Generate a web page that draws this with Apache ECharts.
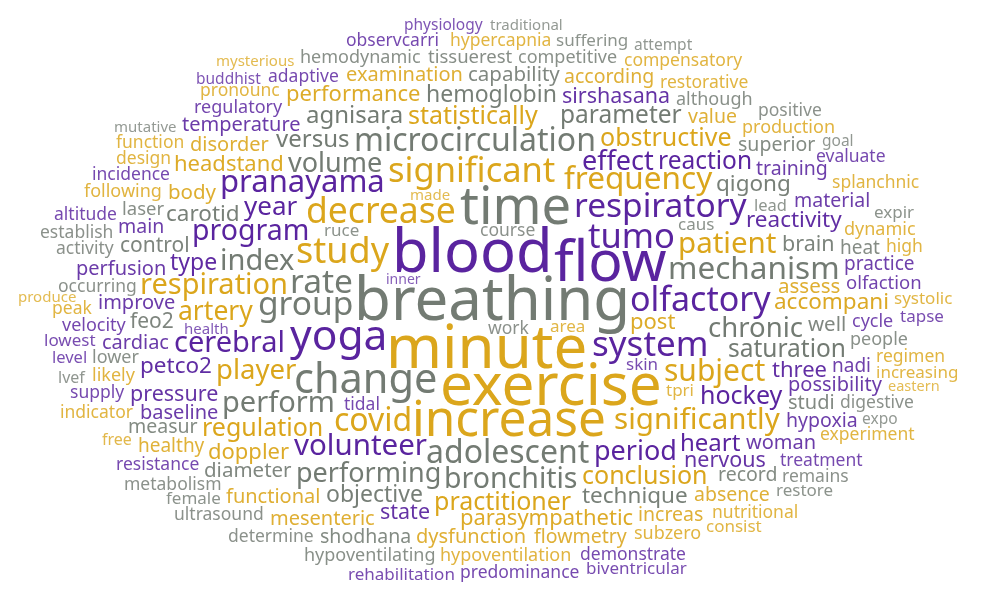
<!DOCTYPE html>
<html><head><meta charset="utf-8">
<script src="https://cdn.jsdelivr.net/npm/echarts@6/dist/echarts.min.js"></script>
<style>html,body{margin:0;padding:0;background:#fff;overflow:hidden}#c{width:982px;height:607px}</style>
</head><body><div id="c"></div>
<script>
// ---------- DATA ----------
const words = [
"blood","breathing","flow","exercise","minute","time","increase","yoga","change","decrease",
"study","tumo","significant","group","rate","system","adolescent","olfactory","respiratory","microcirculation",
"frequency","significantly","bronchitis","volunteer","subject","program","covid","pranayama","respiration","index",
"mechanism","cerebral","patient","period","player","perform","effect","hockey","chronic","performing",
"heart","reaction","year","artery","statistically","regulation","conclusion","practitioner","volume","saturation",
"type","obstructive","versus","parameter","hemoglobin","nervous","agnisara","post","three","qigong",
"parasympathetic","headstand","objective","reactivity","accompani","carotid","petco2","brain","technique","pressure",
"sirshasana","doppler","training","state","improve","possibility","baseline","practice","cardiac","cycle",
"healthy","material","well","hypoxia","performance","nadi","according","control","body","disorder",
"dysfunction","flowmetry","examination","hypoventilation","record","temperature","capability","perfusion","lower","assess",
"main","heat","diameter","value","woman","occurring","superior","treatment","shodhana","absence",
"mesenteric","lowest","measur","adaptive","tissuerest","feo2","studi","hypercapnia","restorative","functional",
"olfaction","competitive","increas","demonstrate","laser","course","digestive","suffering","although","tidal",
"resistance","incidence","nutritional","predominance","hemodynamic","regulatory","compensatory","pronounc","rehabilitation","hypoventilating",
"metabolism","splanchnic","production","activity","people","systolic","increasing","experiment","supply","determine",
"design","consist","expir","lead","remains","skin","velocity","ultrasound","regimen","observcarri",
"indicator","biventricular","establish","subzero","work","restore","likely","function","positive","following",
"peak","evaluate","level","free","altitude","physiology","produce","attempt","mutative","health",
"dynamic","high","tapse","buddhist","traditional","inner","goal","expo","female","area",
"tpri","ruce","caus","mysterious","made","eastern","lvef"
];
const weights = [
59.5,60,57,58.5,60,52.5,49.5,42.5,41.5,35.5,
36,34.5,34.5,33.5,33.5,35,32,34,33.5,32,
31.5,29.5,28.5,29.5,30,28.5,32,31,29,29,
31.5,29,29.5,27,27.5,29,27,25,27.5,27,
24,24.5,26,26.5,25,25,25,25,27,24.5,
23,25,24,24.5,23,21.5,24,22,22,22.5,
22,22,23,22.5,22.5,22.5,22.5,21.5,22.5,21.5,
21.5,22,19.5,21.5,20,20,20,19,20,18,
19,19.5,20.5,19.5,22,19,19.5,21,20.5,20,
20,19.5,20,18,19.5,20,20.5,20,18,20.5,
19.5,19,20.5,19.5,20,17.5,19.5,17.5,19.5,19.5,
20,17,19.5,17.5,18.5,21,20,17.5,17.5,20,
18.5,18,19.5,17.5,18.5,17.5,17.5,17,18,17.5,
17.5,17.5,17.5,17.5,18,18,17.5,17.5,17,18,
17.5,17.5,18,17.5,18,17,17,17.5,17.5,17.5,
17.5,17,17,16.5,17.5,17,18,17.5,17.5,17.5,
17.5,17,17.5,18,17.5,17,18,17.5,17.5,18,
17.5,17.5,16.5,16,17.5,15.5,15,15.5,15,15,
18,17.5,17,15.5,15,14,15.5,15.5,17,17,
17,17,17,15,15,14.5,16
];
// colour group: G = gold, P = purple, N = grey
const colourGroup = [
"P","N","P","G","G","N","G","P","N","G",
"G","P","G","N","N","P","N","P","P","N",
"G","G","N","P","G","P","G","P","G","N",
"N","P","G","P","G","N","P","P","N","N",
"P","P","P","G","G","G","G","G","N","N",
"P","G","N","N","N","P","N","G","P","N",
"G","G","N","P","G","N","P","N","N","P",
"P","G","P","P","P","P","P","P","P","P",
"G","P","N","P","G","P","G","N","G","G",
"G","G","G","G","N","P","N","P","N","G",
"P","N","N","G","P","N","N","P","N","G",
"G","P","N","P","N","N","N","G","G","G",
"P","N","G","P","N","N","N","N","N","P",
"P","P","G","P","N","P","G","G","P","N",
"N","G","G","N","N","G","G","G","P","N",
"G","G","N","N","N","P","P","N","G","P",
"G","P","N","G","N","N","G","G","N","G",
"G","P","P","G","P","P","G","N","N","P",
"G","G","P","P","N","P","N","N","N","G",
"G","N","N","G","G","G","N"
];

// ---------- LAYOUT (spiral placement inside an ellipse) ----------
const W = 982, H = 607, CELL = 2;
const FONT = '"Noto Sans", "Open Sans", sans-serif';
const gw = Math.ceil(W / CELL), gh = Math.ceil(H / CELL);
const grid = new Uint8Array(gw * gh);
const ecx = W / 2, ecy = H / 2, erx = W / 2 - 2, ery = H / 2 + 2;
const sizeOf = w => w;   // font size proportional to weight
const PADX = 3, PADY = 1; // gap between words, in cells

const mc = document.createElement('canvas');
const mctx = mc.getContext('2d', { willReadFrequently: true });

function buildMask(text, fs) {
  const font = fs + 'px ' + FONT;
  mctx.font = font;
  const tw = Math.ceil(mctx.measureText(text).width);
  const th = Math.ceil(fs * 1.5);
  const pad = 8;
  const cw = Math.ceil((tw + pad * 2) / CELL), ch = Math.ceil((th + pad * 2) / CELL);
  mc.width = cw * CELL; mc.height = ch * CELL;
  mctx.font = font; mctx.textBaseline = 'middle'; mctx.textAlign = 'left'; mctx.fillStyle = '#000';
  mctx.fillText(text, pad, pad + th / 2);
  const d = mctx.getImageData(0, 0, mc.width, mc.height).data;
  const occ = new Uint8Array(cw * ch);
  let x0 = 1e9, y0 = 1e9, x1 = -1, y1 = -1;
  for (let y = 0; y < mc.height; y++) for (let x = 0; x < mc.width; x++) {
    if (d[(y * mc.width + x) * 4 + 3] > 40) {
      occ[((y / CELL) | 0) * cw + ((x / CELL) | 0)] = 1;
      if (x < x0) x0 = x; if (x > x1) x1 = x; if (y < y0) y0 = y; if (y > y1) y1 = y;
    }
  }
  const filled = [], test = [];
  for (let y = 0; y < ch; y++) for (let x = 0; x < cw; x++) {
    if (occ[y * cw + x]) filled.push(x, y);
    let hit = false;
    for (let dy = -PADY; dy <= PADY && !hit; dy++) for (let dx = -PADX; dx <= PADX; dx++) {
      const xx = x + dx, yy = y + dy;
      if (xx >= 0 && yy >= 0 && xx < cw && yy < ch && occ[yy * cw + xx]) { hit = true; break; }
    }
    if (hit) test.push(x, y);
  }
  return { filled, test, pad, th, x0, y0, x1, y1 };
}

function inEllipse(x, y) {
  const a = (x - ecx) / erx, b = (y - ecy) / ery;
  return a * a + b * b <= 1;
}

function tryPlace(m, gx, gy) {
  const px = gx * CELL, py = gy * CELL;
  if (px + m.x0 < 2 || py + m.y0 < 2 || px + m.x1 > W - 2 || py + m.y1 > H - 2) return false;
  if (!inEllipse(px + m.x0, py + m.y0) || !inEllipse(px + m.x1, py + m.y0) ||
      !inEllipse(px + m.x0, py + m.y1) || !inEllipse(px + m.x1, py + m.y1)) return false;
  const t = m.test;
  for (let k = 0; k < t.length; k += 2) {
    const xx = gx + t[k], yy = gy + t[k + 1];
    if (xx < 0 || yy < 0 || xx >= gw || yy >= gh) return false;
    if (grid[yy * gw + xx]) return false;
  }
  return true;
}

function hashAngle(s) {
  let h = 2166136261;
  for (let i = 0; i < s.length; i++) { h ^= s.charCodeAt(i); h = Math.imul(h, 16777619); }
  return ((h >>> 0) % 3600) / 3600 * Math.PI * 2;
}

const placed = new Array(words.length).fill(null);
const order = words.map((w, i) => i).sort((a, b) => weights[b] - weights[a] || a - b);
const ratio = ery / erx;
for (const i of order) {
  let fs = sizeOf(weights[i]);
  for (let attempt = 0; attempt < 5 && !placed[i]; attempt++, fs *= 0.93) {
    const m = buildMask(words[i], fs);
    const bw = (m.x0 + m.x1) / 2, bh = (m.y0 + m.y1) / 2;
    const start = hashAngle(words[i]);
    let done = false;
    for (let r = 0; r <= erx && !done; r += CELL) {
      const n = Math.max(1, Math.ceil(2 * Math.PI * r / CELL));
      for (let k = 0; k < n; k++) {
        const th = start + k * 2 * Math.PI / n;
        const x = ecx + r * Math.cos(th) - bw, y = ecy + r * ratio * Math.sin(th) - bh;
        const gx = Math.round(x / CELL), gy = Math.round(y / CELL);
        if (tryPlace(m, gx, gy)) {
          const f = m.filled;
          for (let q = 0; q < f.length; q += 2) grid[(gy + f[q + 1]) * gw + gx + f[q]] = 1;
          placed[i] = { x: gx * CELL + m.pad, y: gy * CELL + m.pad + m.th / 2, fs };
          done = true; break;
        }
      }
    }
  }
}

// ---------- CHART ----------
const colours = { G: '#dba61c', P: '#5a249f', N: '#737b73' };
const chart = echarts.init(document.getElementById('c'), null, { renderer: 'canvas' });
chart.setOption({
  backgroundColor: '#ffffff',
  animation: false,
  series: [{
    type: 'custom',
    coordinateSystem: 'none',
    silent: true,
    data: words.map((w, i) => [i, weights[i]]),
    renderItem: function (params, api) {
      const i = api.value(0);
      const p = placed[i];
      if (!p) return null;
      const op = Math.min(1, 0.74 + 0.26 * (p.fs - 14) / 10);
      return {
        type: 'text',
        x: p.x, y: p.y,
        style: {
          text: words[i],
          font: p.fs.toFixed(2) + 'px ' + FONT,
          fill: colours[colourGroup[i]],
          opacity: op,
          align: 'left', verticalAlign: 'middle',
          textAlign: 'left', textVerticalAlign: 'middle'
        }
      };
    }
  }]
});
</script>
</body></html>
